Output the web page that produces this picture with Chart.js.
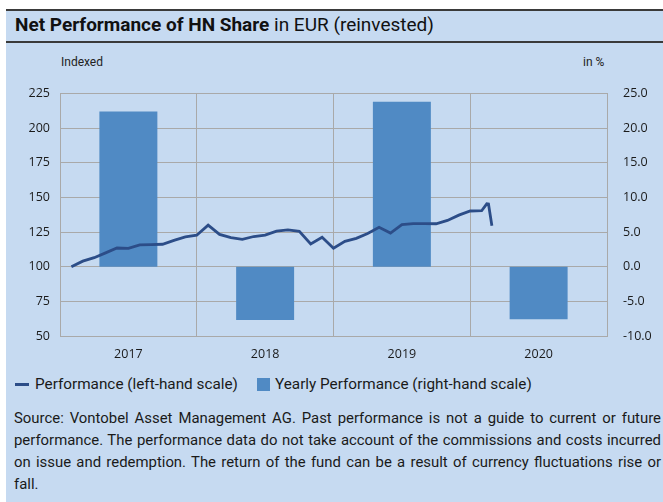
<!DOCTYPE html>
<html>
<head>
<meta charset="utf-8">
<script src="https://cdn.jsdelivr.net/npm/chart.js@4.4.1/dist/chart.umd.min.js"></script>
<style>
  body { margin: 0; width: 663px; height: 502px; overflow: hidden; background: #fff; font-family: Roboto, sans-serif; color: #1a1a1a; }
  #panel { position: absolute; left: 6px; top: 9px; width: 657px; height: 493px; background: #c6daf1; border-top: 2px solid #3a3a3a; }
  #rule { position: absolute; left: 6px; top: 41px; width: 657px; height: 2px; background: #3a3a3a; }
  #title { position: absolute; left: 15px; top: 15px; font-size: 19px; line-height: 19px; white-space: nowrap; color: #111; }
  #title b { font-weight: 700; }
  .axlab { position: absolute; top: 55px; font-size: 12px; line-height: 14px; color: #222; }
  #wrap { position: absolute; left: 0; top: 70px; width: 663px; height: 300px; }
  #legend { position: absolute; left: 0; top: 374px; font-size: 15.3px; line-height: 18px; white-space: nowrap; }
  #legend span { position: absolute; }
  #source { position: absolute; left: 14px; top: 407px; width: 647px; font-size: 14.9px; line-height: 22px; text-align: justify; text-align-last: justify; }
</style>
</head>
<body>
<div id="panel"></div>
<div id="rule"></div>
<div id="title"><b>Net Performance of HN Share</b> in EUR (reinvested)</div>
<div class="axlab" style="left:61px">Indexed</div>
<div class="axlab" style="left:583px">in %</div>
<div id="wrap"><canvas id="chart"></canvas></div>
<div id="legend">
  <span style="left:15px;top:9px;width:14px;height:3px;background:#2c4d88"></span>
  <span style="left:35px;top:1px">Performance (left-hand scale)</span>
  <span style="left:257px;top:4px;width:13px;height:13px;background:#508ac4"></span>
  <span style="left:275px;top:1px">Yearly Performance (right-hand scale)</span>
</div>
<div id="source">Source: Vontobel Asset Management AG. Past performance is not a guide to current or future<br>performance. The performance data do not take account of the commissions and costs incurred<br>on issue and redemption. The return of the fund can be a result of currency fluctuations rise or<br>fall.</div>

<script>
// yearly bars (right-hand scale, %)
const years = ["2017", "2018", "2019", "2020"];
const yearlyPerf = [22.4, -7.7, 23.8, -7.6];

// indexed performance line (left-hand scale), month position from start of 2017
const perfMonths = [1, 2, 3, 4, 5, 6, 7, 8, 9, 10, 11, 12,
  13, 14, 15, 16, 17, 18, 19, 20, 21, 22, 23, 24,
  25, 26, 27, 28, 29, 30, 31, 32, 33, 34, 35, 36,
  37, 37.45, 37.6, 37.9];
const perfIndex = [100, 104, 106.5, 110, 113.5, 113.2, 115.7, 116, 116.2, 119, 121.5, 122.7,
  130, 123.3, 121, 119.8, 121.8, 122.8, 125.7, 126.6, 125.5, 116.4, 121.2, 113.4,
  118.3, 120.5, 123.9, 128.4, 124.3, 130.4, 131.1, 131.1, 131, 133.4, 137.2, 140.2,
  140.4, 145.4, 145.2, 129.6];

const leftTicks = [50, 75, 100, 125, 150, 175, 200, 225];
const rightTicks = [-10, -5, 0, 5, 10, 15, 20, 25];

const tickFont = { family: "Open Sans", size: 12.5 };
const gridCol = "#a9a9a9";

new Chart(document.getElementById("chart"), {
  data: {
    labels: years,
    datasets: [
      {
        type: "line",
        label: "Performance (left-hand scale)",
        data: perfMonths.map((m, i) => ({ x: m, y: perfIndex[i] })),
        xAxisID: "xl",
        yAxisID: "y",
        borderColor: "#2c4d88",
        borderWidth: 2.8,
        pointRadius: 0,
        tension: 0,
      },
      {
        type: "bar",
        label: "Yearly Performance (right-hand scale)",
        data: yearlyPerf,
        xAxisID: "x",
        yAxisID: "yr",
        backgroundColor: "#508ac4",
        grouped: false,
        categoryPercentage: 1,
        barPercentage: 0.424,
      },
    ],
  },
  options: {
    responsive: true,
    maintainAspectRatio: false,
    animation: false,
    layout: { padding: { top: 9, left: 0, right: 0, bottom: 0 } },
    plugins: { legend: { display: false }, tooltip: { enabled: false } },
    scales: {
      x: {
        type: "category",
        offset: true,
        grid: { offset: true, color: gridCol, drawTicks: false },
        border: { color: gridCol },
        ticks: { font: tickFont, color: "#1a1a1a", padding: 11 },
        afterFit: (s) => { s.height = 34; },
      },
      xl: {
        type: "linear",
        display: false,
        min: 0,
        max: 48,
      },
      y: {
        position: "left",
        min: 50,
        max: 225,
        afterBuildTicks: (s) => { s.ticks = leftTicks.map((v) => ({ value: v })); },
        grid: { color: gridCol, drawTicks: false },
        border: { color: gridCol },
        ticks: { font: tickFont, color: "#1a1a1a", padding: 10 },
        afterFit: (s) => { s.width = 60; },
      },
      yr: {
        position: "right",
        min: -10,
        max: 25,
        afterBuildTicks: (s) => { s.ticks = rightTicks.map((v) => ({ value: v })); },
        grid: { display: false, drawTicks: false },
        border: { color: gridCol },
        ticks: { font: tickFont, color: "#1a1a1a", padding: 16, callback: (v) => Number(v).toFixed(1) },
        afterFit: (s) => { s.width = 56; },
      },
    },
  },
});
</script>
</body>
</html>
